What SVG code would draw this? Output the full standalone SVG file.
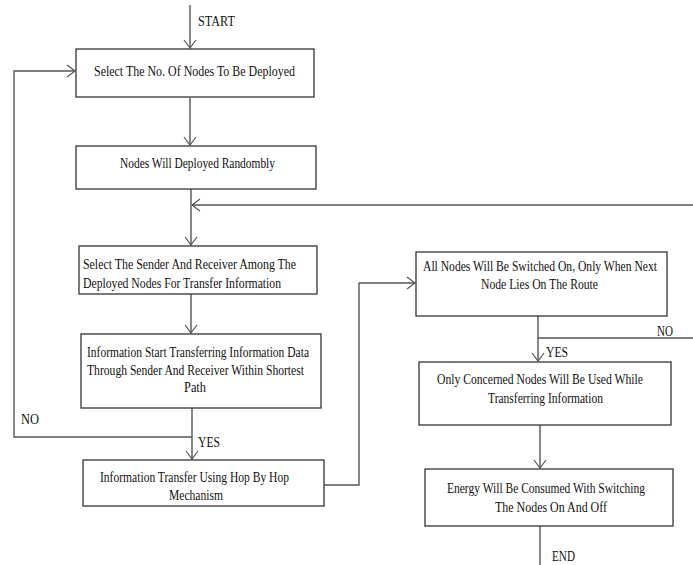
<svg xmlns="http://www.w3.org/2000/svg" width="693" height="565" viewBox="0 0 693 565">
<defs>
<marker id="arr" markerUnits="userSpaceOnUse" markerWidth="12" markerHeight="16" viewBox="-10 -8 12 16" refX="0" refY="0" orient="auto">
<path d="M-8,-6 L0,0 L-8,6" fill="none" stroke="#555" stroke-width="1.2"/>
</marker>
</defs>
<style>
.box{fill:#fff;stroke:#333;stroke-width:1.3}
.t{font-family:'Liberation Serif','DejaVu Serif',serif;font-size:14px;fill:#111}
.c{fill:none;stroke:#555;stroke-width:1.4}
</style>
<rect width="693" height="565" fill="#fff"/>
<g id="connectors">
<line class="c" x1="190" y1="5" x2="190" y2="48" marker-end="url(#arr)"/>
<line class="c" x1="190" y1="98" x2="190" y2="145" marker-end="url(#arr)"/>
<line class="c" x1="191" y1="189" x2="191" y2="245" marker-end="url(#arr)"/>
<line class="c" x1="693" y1="205" x2="192" y2="205" marker-end="url(#arr)"/>
<line class="c" x1="191" y1="294" x2="191" y2="333" marker-end="url(#arr)"/>
<line class="c" x1="192" y1="408" x2="192" y2="459" marker-end="url(#arr)"/>
<polyline class="c" points="192,437 14,437 14,71 75,71" marker-end="url(#arr)"/>
<polyline class="c" points="324,485 359,485 359,283 415,283" marker-end="url(#arr)"/>
<line class="c" x1="538" y1="316" x2="538" y2="361" marker-end="url(#arr)"/>
<line class="c" x1="538" y1="338" x2="693" y2="338"/>
<line class="c" x1="540" y1="425" x2="540" y2="468" marker-end="url(#arr)"/>
<line class="c" x1="540" y1="526" x2="540" y2="565"/>
<text class="t" x="198" y="26" textLength="37" lengthAdjust="spacingAndGlyphs">START</text>
<text class="t" x="21" y="424" textLength="18" lengthAdjust="spacingAndGlyphs">NO</text>
<text class="t" x="198" y="447" textLength="22" lengthAdjust="spacingAndGlyphs">YES</text>
<text class="t" x="657" y="336" textLength="16" lengthAdjust="spacingAndGlyphs">NO</text>
<text class="t" x="546" y="357" textLength="22" lengthAdjust="spacingAndGlyphs">YES</text>
<text class="t" x="552" y="561" textLength="23" lengthAdjust="spacingAndGlyphs">END</text>
</g>
<g id="n1">
<rect class="box" x="76" y="49" width="238" height="48"/>
<text class="t" x="94" y="75.5" textLength="201" lengthAdjust="spacingAndGlyphs">Select The No. Of Nodes To Be Deployed</text>
</g>
<g id="n2">
<rect class="box" x="76" y="146" width="240" height="43"/>
<text class="t" x="120" y="167.5" textLength="155" lengthAdjust="spacingAndGlyphs">Nodes Will Deployed Randombly</text>
</g>
<g id="n3">
<rect class="box" x="79" y="246" width="238" height="48"/>
<text class="t" x="83" y="268.5" textLength="213" lengthAdjust="spacingAndGlyphs">Select The Sender And Receiver Among The</text>
<text class="t" x="83" y="287.5" textLength="198" lengthAdjust="spacingAndGlyphs">Deployed Nodes For Transfer Information</text>
</g>
<g id="n4">
<rect class="box" x="81" y="334" width="240" height="74"/>
<text class="t" x="87" y="356.5" textLength="222" lengthAdjust="spacingAndGlyphs">Information Start Transferring Information Data</text>
<text class="t" x="87" y="374.5" textLength="217" lengthAdjust="spacingAndGlyphs">Through Sender And Receiver Within Shortest</text>
<text class="t" x="184" y="391.5" textLength="22" lengthAdjust="spacingAndGlyphs">Path</text>
</g>
<g id="n5">
<rect class="box" x="83" y="460" width="241" height="46"/>
<text class="t" x="100" y="481.5" textLength="189" lengthAdjust="spacingAndGlyphs">Information Transfer Using Hop By Hop</text>
<text class="t" x="169" y="499.5" textLength="54" lengthAdjust="spacingAndGlyphs">Mechanism</text>
</g>
<g id="n6">
<rect class="box" x="416" y="252" width="251" height="64"/>
<text class="t" x="423" y="270.5" textLength="234" lengthAdjust="spacingAndGlyphs">All Nodes Will Be Switched On, Only When Next</text>
<text class="t" x="481" y="288.5" textLength="117" lengthAdjust="spacingAndGlyphs">Node Lies On The Route</text>
</g>
<g id="n7">
<rect class="box" x="419" y="362" width="252" height="63"/>
<text class="t" x="437" y="383.5" textLength="206" lengthAdjust="spacingAndGlyphs">Only Concerned Nodes Will Be Used While</text>
<text class="t" x="488" y="402.5" textLength="115" lengthAdjust="spacingAndGlyphs">Transferring Information</text>
</g>
<g id="n8">
<rect class="box" x="425" y="469" width="248" height="57"/>
<text class="t" x="447" y="492.5" textLength="198" lengthAdjust="spacingAndGlyphs">Energy Will Be Consumed With Switching</text>
<text class="t" x="495" y="511.5" textLength="112" lengthAdjust="spacingAndGlyphs">The Nodes On And Off</text>
</g>
</svg>
